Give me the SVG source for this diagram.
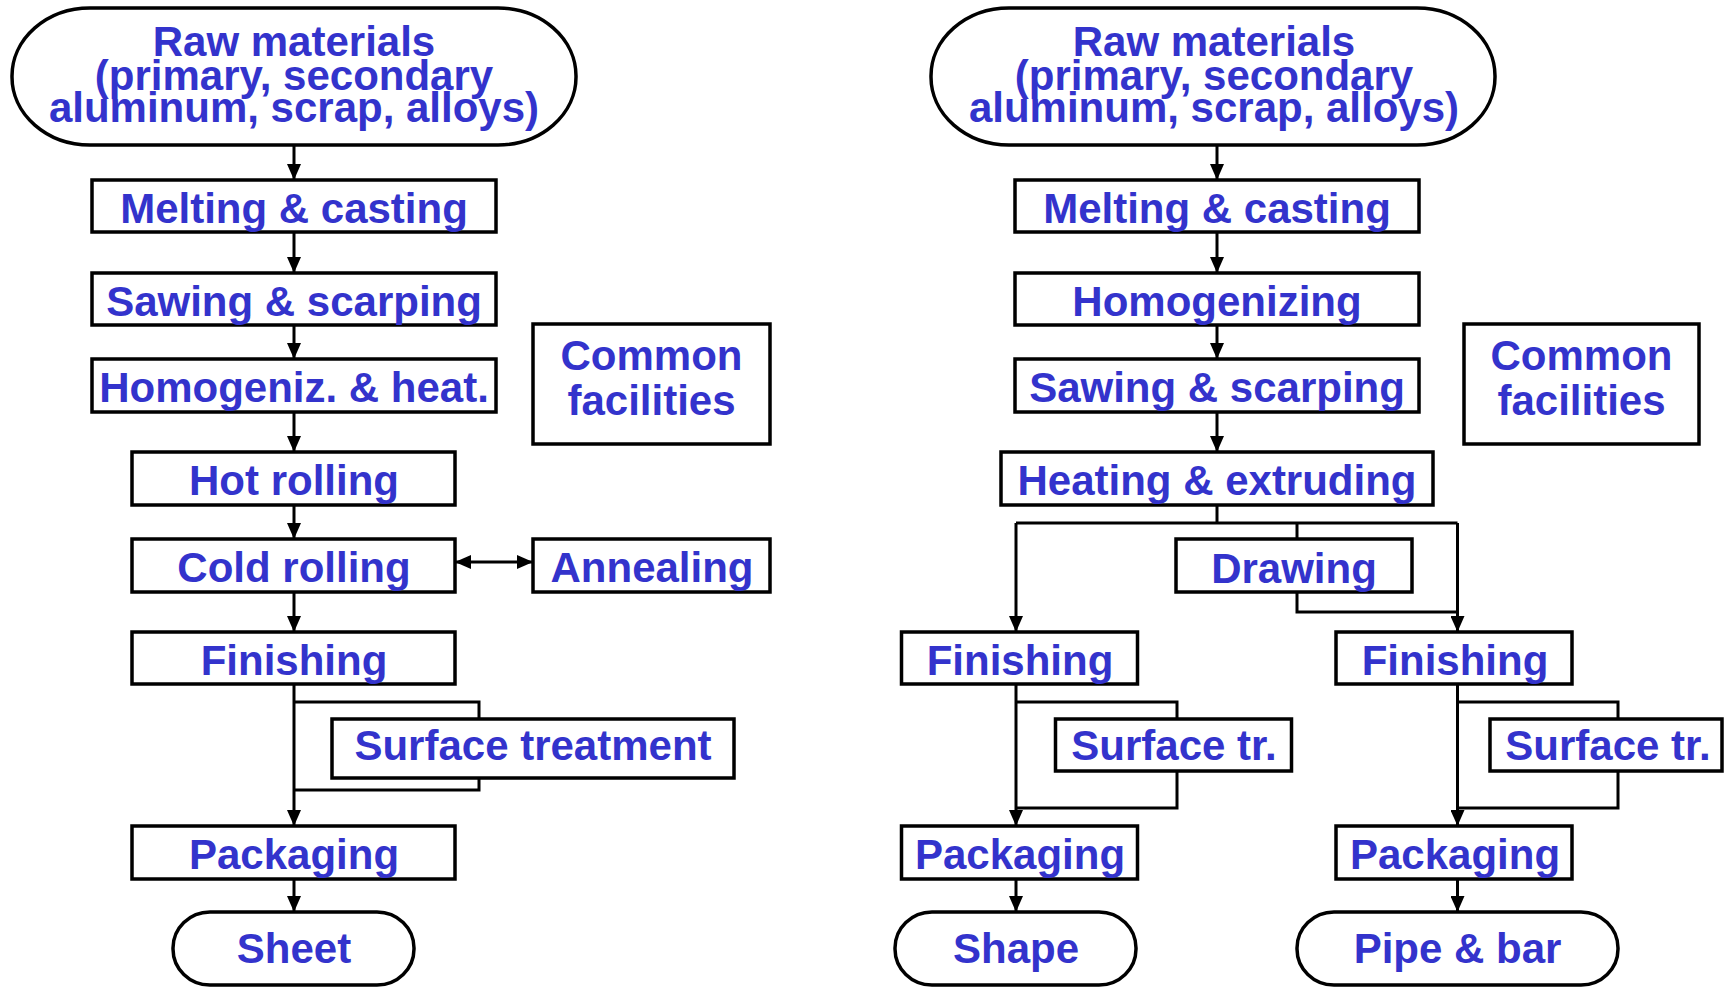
<svg xmlns="http://www.w3.org/2000/svg" width="1724" height="987" viewBox="0 0 1724 987">
<style>
.box{fill:#fff;stroke:#000;stroke-width:3.5}
.t{font-family:"Liberation Sans",Arial,sans-serif;font-weight:bold;font-size:42px;fill:#3333cc;text-anchor:middle}
.c{fill:none;stroke:#000;stroke-width:3}
.a{marker-end:url(#ah)}
</style>
<defs>
<marker id="ah" markerUnits="userSpaceOnUse" markerWidth="16" markerHeight="14" viewBox="0 0 16 14" refX="16" refY="7" orient="auto-start-reverse"><path d="M0,0 L16,7 L0,14 z" fill="#000"/></marker>
</defs>
<rect width="1724" height="987" fill="#fff"/>
<g id="connectors">
<line class="c a" x1="294" y1="145" x2="294" y2="180"/>
<line class="c a" x1="294" y1="232" x2="294" y2="273"/>
<line class="c a" x1="294" y1="325" x2="294" y2="359"/>
<line class="c a" x1="294" y1="412" x2="294" y2="452"/>
<line class="c a" x1="294" y1="505" x2="294" y2="539"/>
<line class="c a" x1="294" y1="592" x2="294" y2="632"/>
<line class="c a" x1="455" y1="562" x2="533" y2="562" marker-start="url(#ah)"/>
<line class="c a" x1="294" y1="684" x2="294" y2="826"/>
<polyline class="c" points="294,702 479,702 479,719"/>
<polyline class="c" points="479,778 479,790 294,790"/>
<line class="c a" x1="294" y1="879" x2="294" y2="912"/>
<line class="c a" x1="1217" y1="145" x2="1217" y2="180"/>
<line class="c a" x1="1217" y1="232" x2="1217" y2="273"/>
<line class="c a" x1="1217" y1="325" x2="1217" y2="359"/>
<line class="c a" x1="1217" y1="412" x2="1217" y2="452"/>
<line class="c" x1="1217" y1="505" x2="1217" y2="523"/>
<line class="c" x1="1016" y1="523" x2="1457.5" y2="523"/>
<line class="c a" x1="1016" y1="523" x2="1016" y2="632"/>
<line class="c" x1="1297" y1="523" x2="1297" y2="539"/>
<line class="c a" x1="1457.5" y1="523" x2="1457.5" y2="632"/>
<polyline class="c" points="1297,592 1297,612 1457.5,612"/>
<line class="c a" x1="1016" y1="684" x2="1016" y2="826"/>
<polyline class="c" points="1016,702 1177,702 1177,719"/>
<polyline class="c" points="1177,771 1177,808 1016,808"/>
<line class="c a" x1="1016" y1="879" x2="1016" y2="912"/>
<line class="c a" x1="1457.5" y1="684" x2="1457.5" y2="826"/>
<polyline class="c" points="1457.5,702 1618,702 1618,719"/>
<polyline class="c" points="1618,771 1618,808 1457.5,808"/>
<line class="c a" x1="1457.5" y1="879" x2="1457.5" y2="912"/>
</g>
<g id="raw-left"><rect class="box" x="12" y="8" width="564" height="137" rx="78" ry="68"/>
<text class="t" x="294" y="56">Raw materials</text><text class="t" x="294" y="90">(primary, secondary</text><text class="t" x="294" y="122">aluminum, scrap, alloys)</text></g>
<g id="melting-left"><rect class="box" x="92" y="180" width="404" height="52"/><text class="t" x="294" y="223">Melting &amp; casting</text></g>
<g id="sawing-left"><rect class="box" x="92" y="273" width="404" height="52"/><text class="t" x="294" y="316">Sawing &amp; scarping</text></g>
<g id="homog-left"><rect class="box" x="92" y="359" width="404" height="53"/><text class="t" x="294" y="402">Homogeniz. &amp; heat.</text></g>
<g id="hot-rolling"><rect class="box" x="132" y="452" width="323" height="53"/><text class="t" x="294" y="495">Hot rolling</text></g>
<g id="cold-rolling"><rect class="box" x="132" y="539" width="323" height="53"/><text class="t" x="294" y="582">Cold rolling</text></g>
<g id="finishing-left"><rect class="box" x="132" y="632" width="323" height="52"/><text class="t" x="294" y="675">Finishing</text></g>
<g id="surface-left"><rect class="box" x="332" y="719" width="402" height="59"/><text class="t" x="533" y="760">Surface treatment</text></g>
<g id="packaging-left"><rect class="box" x="132" y="826" width="323" height="53"/><text class="t" x="294" y="869">Packaging</text></g>
<g id="sheet"><rect class="box" x="173" y="912" width="241" height="73" rx="37" ry="36"/><text class="t" x="294" y="963">Sheet</text></g>
<g id="common-left"><rect class="box" x="533" y="324" width="237" height="120"/><text class="t" x="651.5" y="370">Common</text><text class="t" x="651.5" y="415">facilities</text></g>
<g id="annealing"><rect class="box" x="533" y="539" width="237" height="53"/><text class="t" x="652" y="582">Annealing</text></g>
<g id="raw-right"><rect class="box" x="931" y="8" width="564" height="137" rx="78" ry="68"/>
<text class="t" x="1214" y="56">Raw materials</text><text class="t" x="1214" y="90">(primary, secondary</text><text class="t" x="1214" y="122">aluminum, scrap, alloys)</text></g>
<g id="melting-right"><rect class="box" x="1015" y="180" width="404" height="52"/><text class="t" x="1217" y="223">Melting &amp; casting</text></g>
<g id="homogenizing"><rect class="box" x="1015" y="273" width="404" height="52"/><text class="t" x="1217" y="316">Homogenizing</text></g>
<g id="sawing-right"><rect class="box" x="1015" y="359" width="404" height="53"/><text class="t" x="1217" y="402">Sawing &amp; scarping</text></g>
<g id="heating"><rect class="box" x="1001" y="452" width="432" height="53"/><text class="t" x="1217" y="495">Heating &amp; extruding</text></g>
<g id="common-right"><rect class="box" x="1464" y="324" width="235" height="120"/><text class="t" x="1581.5" y="370">Common</text><text class="t" x="1581.5" y="415">facilities</text></g>
<g id="drawing"><rect class="box" x="1176" y="539" width="236" height="53"/><text class="t" x="1294" y="583">Drawing</text></g>
<g id="finishing-shape"><rect class="box" x="901.5" y="632" width="236" height="52"/><text class="t" x="1020" y="675">Finishing</text></g>
<g id="finishing-pipe"><rect class="box" x="1336" y="632" width="236" height="52"/><text class="t" x="1455" y="675">Finishing</text></g>
<g id="surface-shape"><rect class="box" x="1055.5" y="719" width="236" height="52"/><text class="t" x="1174" y="760">Surface tr.</text></g>
<g id="surface-pipe"><rect class="box" x="1490" y="719" width="232" height="52"/><text class="t" x="1608" y="760">Surface tr.</text></g>
<g id="packaging-shape"><rect class="box" x="901.5" y="826" width="236" height="53"/><text class="t" x="1020" y="869">Packaging</text></g>
<g id="packaging-pipe"><rect class="box" x="1336" y="826" width="236" height="53"/><text class="t" x="1455" y="869">Packaging</text></g>
<g id="shape"><rect class="box" x="895" y="912" width="241" height="73" rx="37" ry="36"/><text class="t" x="1016" y="963">Shape</text></g>
<g id="pipe-bar"><rect class="box" x="1297" y="912" width="321" height="73" rx="37" ry="36"/><text class="t" x="1457.5" y="963">Pipe &amp; bar</text></g>
</svg>
